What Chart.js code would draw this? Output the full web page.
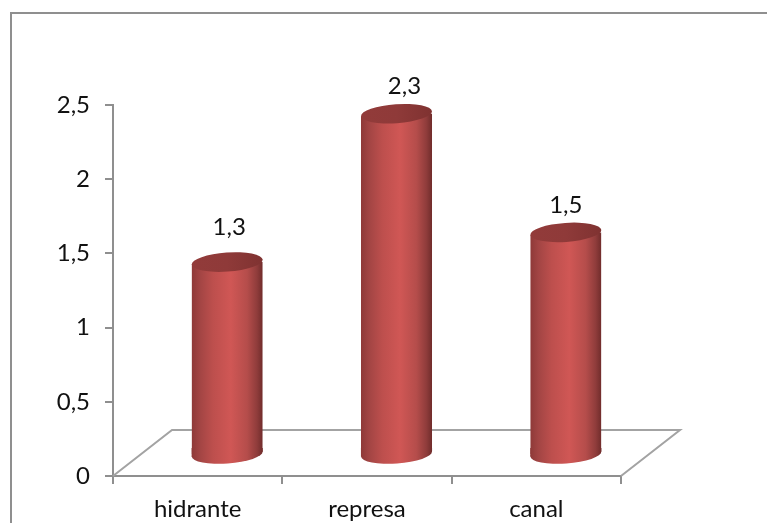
<!DOCTYPE html>
<html lang="pt">
<head>
    <meta charset="UTF-8">
    <title>Hidrante, represa, canal</title>
    <script src="https://cdn.jsdelivr.net/npm/chart.js"></script>
    <style>
        html, body { margin: 0; padding: 0; background: #fff; overflow: hidden; }
        canvas { display: block; }
    </style>
</head>
<body>
    <canvas id="chart" width="767" height="523"></canvas>

    <script>
        const categories = ['hidrante', 'represa', 'canal'];
        const values = [1.3, 2.3, 1.5];
        const valueLabels = ['1,3', '2,3', '1,5'];

        const fontFamily = 'Lato, "Noto Sans", sans-serif';
        const axisGray = '#8f8f8f';
        const depth = { x: 29.5, y: -21 };   // how far the cylinders sit back on the floor
        const floorDepth = { x: 59, y: -46 };
        const tilt = -0.07;                  // slant of the cylinder ends, radians

        function sideGradient(ctx, x, width) {
            const g = ctx.createLinearGradient(x - width / 2, 0, x + width / 2, 0);
            g.addColorStop(0, '#8e3938');
            g.addColorStop(0.12, '#a34544');
            g.addColorStop(0.3, '#bd4f4d');
            g.addColorStop(0.55, '#d05755');
            g.addColorStop(0.78, '#b54d4b');
            g.addColorStop(0.92, '#8f3c3b');
            g.addColorStop(1, '#702c2b');
            return g;
        }

        function ellipseAt(ctx, x, y, width) {
            ctx.beginPath();
            ctx.ellipse(x, y, width / 2, 9.5, tilt, 0, Math.PI * 2);
            ctx.fill();
        }

        // outer frame, runs off the right and bottom of the page
        const framePlugin = {
            id: 'frame',
            beforeDraw(chart) {
                const ctx = chart.ctx;
                ctx.save();
                ctx.strokeStyle = axisGray;
                ctx.lineWidth = 2;
                ctx.beginPath();
                ctx.moveTo(11, 530);
                ctx.lineTo(11, 13);
                ctx.lineTo(770, 13);
                ctx.stroke();
                ctx.restore();
            }
        };

        // floor of the 3D box, hung off the axis corners
        const floorPlugin = {
            id: 'floor',
            beforeDatasetsDraw(chart) {
                const ctx = chart.ctx;
                const { left, right, bottom } = chart.chartArea;
                ctx.save();
                ctx.strokeStyle = '#a3a3a3';
                ctx.lineWidth = 2;
                ctx.beginPath();
                ctx.moveTo(left, bottom);
                ctx.lineTo(left + floorDepth.x, bottom + floorDepth.y);
                ctx.lineTo(right + floorDepth.x, bottom + floorDepth.y);
                ctx.lineTo(right, bottom);
                ctx.stroke();
                ctx.restore();
            }
        };

        // pushes the bars back in depth and adds the round ends of the cylinders
        const cylinderPlugin = {
            id: 'cylinder',
            beforeDatasetsDraw(chart) {
                const ctx = chart.ctx;
                const bars = chart.getDatasetMeta(0).data;
                const drop = Math.sin(-tilt) * 35.5;
                ctx.save();
                ctx.translate(depth.x, depth.y);
                bars.forEach(bar => {
                    const l = bar.x - bar.width / 2;
                    const r = bar.x + bar.width / 2;
                    ctx.fillStyle = sideGradient(ctx, bar.x, bar.width);
                    ellipseAt(ctx, bar.x, bar.base, bar.width);
                    // closes the sliver between the bar end and the low side of the ellipse
                    ctx.beginPath();
                    ctx.moveTo(l, bar.base - 6);
                    ctx.lineTo(r, bar.base - 6);
                    ctx.lineTo(r, bar.base - drop);
                    ctx.lineTo(l, bar.base + drop);
                    ctx.closePath();
                    ctx.fill();
                });
                // slant the square bar ends so no corners stick out past the ellipses
                ctx.beginPath();
                bars.forEach(bar => {
                    const l = bar.x - bar.width / 2;
                    const r = bar.x + bar.width / 2;
                    ctx.moveTo(l, bar.y + drop);
                    ctx.lineTo(r, bar.y - drop);
                    ctx.lineTo(r, bar.base - drop);
                    ctx.lineTo(l, bar.base + drop);
                    ctx.closePath();
                });
                ctx.save();
                ctx.clip();
            },
            afterDatasetsDraw(chart) {
                const ctx = chart.ctx;
                ctx.restore();
                chart.getDatasetMeta(0).data.forEach(bar => {
                    const g = ctx.createLinearGradient(bar.x - bar.width / 2, 0, bar.x + bar.width / 2, 0);
                    g.addColorStop(0, '#923b3a');
                    g.addColorStop(0.5, '#8f3a39');
                    g.addColorStop(1, '#7f3231');
                    ctx.fillStyle = g;
                    ellipseAt(ctx, bar.x, bar.y, bar.width);
                });
                ctx.restore();
            }
        };

        // value labels above each cylinder
        const labelPlugin = {
            id: 'valueLabels',
            afterDraw(chart) {
                const ctx = chart.ctx;
                const nudges = [[2, -35], [8, -27], [0, -27]];
                ctx.save();
                ctx.font = '24px ' + fontFamily;
                ctx.fillStyle = '#111';
                ctx.textAlign = 'center';
                ctx.textBaseline = 'middle';
                chart.getDatasetMeta(0).data.forEach((bar, i) => {
                    ctx.fillText(valueLabels[i], bar.x + depth.x + nudges[i][0], bar.y + depth.y + nudges[i][1]);
                });
                ctx.restore();
            }
        };

        new Chart(document.getElementById('chart'), {
            type: 'bar',
            data: {
                labels: categories,
                datasets: [{
                    data: values,
                    clip: false,
                    borderWidth: 0,
                    barPercentage: 1,
                    categoryPercentage: 0.42,
                    backgroundColor(context) {
                        const chart = context.chart;
                        if (!chart.chartArea) return '#c04f4d';
                        const step = chart.scales.x.width / categories.length;
                        const width = step * 0.42;
                        return sideGradient(chart.ctx, chart.scales.x.getPixelForValue(context.dataIndex), width);
                    }
                }]
            },
            options: {
                responsive: false,
                animation: false,
                layout: { padding: { top: 105, right: 146 } },
                plugins: { legend: { display: false }, tooltip: { enabled: false } },
                scales: {
                    x: {
                        afterFit(scale) { scale.height = 47; },
                        grid: {
                            drawOnChartArea: false,
                            color: axisGray,
                            lineWidth: 2,
                            tickLength: 8
                        },
                        border: { color: axisGray, width: 2 },
                        ticks: {
                            color: '#111',
                            padding: 11,
                            maxRotation: 0,
                            font: { family: fontFamily, size: 24 }
                        }
                    },
                    y: {
                        min: 0,
                        max: 2.5,
                        afterFit(scale) { scale.width = 113; },
                        grid: {
                            drawOnChartArea: false,
                            color: axisGray,
                            lineWidth: 2,
                            tickLength: 8
                        },
                        border: { color: axisGray, width: 2 },
                        ticks: {
                            stepSize: 0.5,
                            color: '#111',
                            padding: 15,
                            font: { family: fontFamily, size: 24 },
                            callback: value => String(value).replace('.', ',')
                        }
                    }
                }
            },
            plugins: [framePlugin, floorPlugin, cylinderPlugin, labelPlugin]
        });
    </script>
</body>
</html>
